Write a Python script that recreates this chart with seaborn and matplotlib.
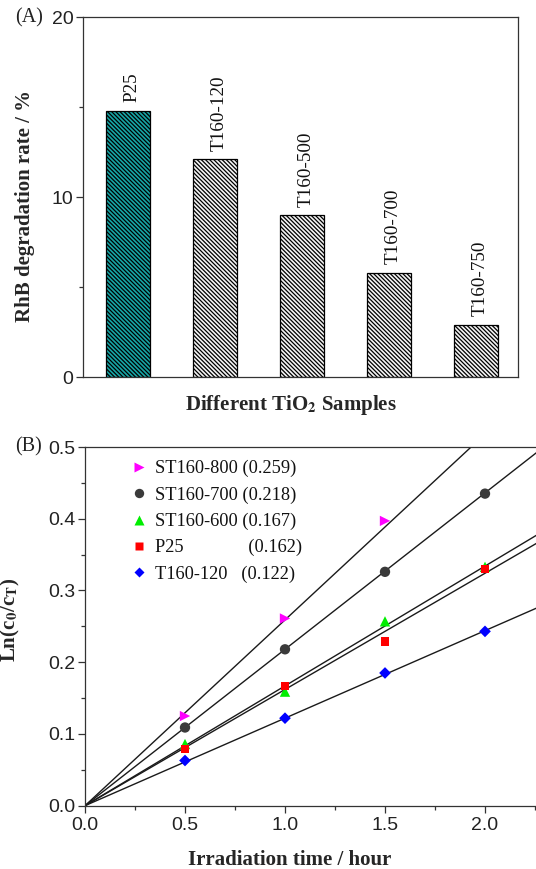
import numpy as np
import pandas as pd
import matplotlib
matplotlib.use("Agg")
import matplotlib.pyplot as plt
import seaborn as sns
from matplotlib.lines import Line2D

# ---------------- data ----------------
samples = ["P25", "T160-120", "T160-500", "T160-700", "T160-750"]
rates = [14.8, 12.1, 9.0, 5.8, 2.9]

series_names = ["ST160-800", "ST160-700", "ST160-600", "P25", "T160-120"]
series_k = [0.259, 0.218, 0.167, 0.162, 0.122]
t_800 = [0.5, 1.0, 1.5]
y_800 = [0.125, 0.261, 0.397]
t_700 = [0.5, 1.0, 1.5, 2.0]
y_700 = [0.109, 0.218, 0.326, 0.435]
t_600 = [0.5, 1.0, 1.5, 2.0]
y_600 = [0.086, 0.159, 0.257, 0.333]
t_p25 = [0.5, 1.0, 1.5, 2.0]
y_p25 = [0.079, 0.167, 0.229, 0.330]
t_120 = [0.5, 1.0, 1.5, 2.0]
y_120 = [0.063, 0.122, 0.185, 0.243]

legend_labels = ["ST160-800 (0.259)", "ST160-700 (0.218)", "ST160-600 (0.167)",
                 "P25" + " " * 14 + "(0.162)", "T160-120   (0.122)"]

# ---------------- style ----------------
sns.set_theme(style="ticks")
plt.rcParams["font.family"] = ["Liberation Sans", "DejaVu Sans"]
plt.rcParams["mathtext.fontset"] = "stix"
plt.rcParams["hatch.linewidth"] = 0.9
plt.rcParams["axes.edgecolor"] = "#333333"
plt.rcParams["axes.linewidth"] = 0.9
plt.rcParams["xtick.color"] = "#333333"
plt.rcParams["ytick.color"] = "#333333"
plt.rcParams["xtick.labelcolor"] = "#222222"
plt.rcParams["ytick.labelcolor"] = "#222222"
SERIF = ["Liberation Serif", "DejaVu Serif"]

W, H = 536, 869
fig = plt.figure(figsize=(W / 100, H / 100), dpi=100)

def box(l, t, r, b):
    return [l / W, 1 - b / H, (r - l) / W, (b - t) / H]

# ---------------- panel A ----------------
axA = fig.add_axes(box(83, 17, 518, 377))
dfA = pd.DataFrame({"sample": samples, "rate": rates})
sns.barplot(data=dfA, x="sample", y="rate", ax=axA, width=0.5,
            color="white", edgecolor="black", linewidth=0.9, saturation=1)
for i, p in enumerate(axA.patches):
    p.set_hatch("\\" * 8)
    p.set_edgecolor("black")
    p.set_facecolor("#16a6a6" if i == 0 else "#f4f4f4")
for i, (s, v) in enumerate(zip(samples, rates)):
    axA.annotate(s, (i, v), xytext=(3, 6), textcoords="offset points",
                 rotation=90, ha="center", va="bottom", fontsize=13.8,
                 family=SERIF, color="#111111")
axA.set_xlim(-0.52, 4.48)
axA.set_ylim(0, 20)
axA.set_yticks([0, 10, 20])
axA.set_yticks([5, 15], minor=True)
axA.tick_params(axis="y", which="major", direction="out", length=5, width=0.9,
                labelsize=14, pad=2)
axA.tick_params(axis="y", which="minor", direction="out", length=3, width=0.9)
axA.tick_params(axis="x", bottom=False, labelbottom=False)
for sp in axA.spines.values():
    sp.set_visible(True)
axA.set_xlabel("Different TiO$_\\mathbf{2}$ Samples", fontsize=15,
               fontweight="bold", family=SERIF)
axA.set_ylabel("RhB degradation rate / %", fontsize=15, fontweight="bold",
               family=SERIF)
axA.xaxis.set_label_coords(0.479, -0.044)
axA.yaxis.set_label_coords(-0.110, 0.476)
fig.text(15 / W, 1 - 18 / H, "(A)", fontsize=14.5, family=SERIF,
         va="center", ha="left", color="#222222")

# ---------------- panel B ----------------
xmax = 2.26
axB = fig.add_axes(box(85, 447, 85 + 200 * xmax, 805.7))
rows = []
for name, tt, yy in zip(series_names, [t_800, t_700, t_600, t_p25, t_120],
                        [y_800, y_700, y_600, y_p25, y_120]):
    for a, b in zip(tt, yy):
        rows.append({"series": name, "t": a, "y": b})
dfB = pd.DataFrame(rows)

fit_rows = []
for name, k in zip(series_names, series_k):
    for a in [0.0, 2.4]:
        fit_rows.append({"series": name, "t": a, "y": k * a})
dfFit = pd.DataFrame(fit_rows)

palette = {"ST160-800": "#ff00ff", "ST160-700": "#3a3a3a",
           "ST160-600": "#00ee00", "P25": "#ff0000", "T160-120": "#0000ff"}
markers = {"ST160-800": ">", "ST160-700": "o", "ST160-600": "^",
           "P25": "s", "T160-120": "D"}
sizes = {"ST160-800": 7.5, "ST160-700": 7.5, "ST160-600": 7.5,
         "P25": 6, "T160-120": 6}

sns.lineplot(data=dfFit, x="t", y="y", units="series", estimator=None,
             color="#1a1a1a", linewidth=1.0, ax=axB, legend=False, zorder=2)
for name in series_names:
    d = dfB[dfB["series"] == name]
    sns.scatterplot(data=d, x="t", y="y", ax=axB, color=palette[name],
                    marker=markers[name], s=(sizes[name] * 0.72) ** 2 * 1.9,
                    edgecolor="none", linewidth=0, legend=False, zorder=3)

handles = [Line2D([], [], linestyle="none", marker=markers[n],
                  markerfacecolor=palette[n], markeredgecolor="none",
                  markersize=sizes[n] * 0.75 * 1.2) for n in series_names]
leg = axB.legend(handles, legend_labels, loc="upper left",
                 bbox_to_anchor=(0.09, 0.985), frameon=False,
                 handlelength=0.6, handletextpad=0.6, labelspacing=0.5,
                 borderaxespad=0, prop={"family": SERIF, "size": 13.2})
for txt in leg.get_texts():
    txt.set_color("#111111")

axB.set_xlim(0, xmax)
axB.set_ylim(0, 0.5)
axB.set_xticks([0.0, 0.5, 1.0, 1.5, 2.0])
axB.set_xticks([0.25, 0.75, 1.25, 1.75, 2.25], minor=True)
axB.set_yticks([0.0, 0.1, 0.2, 0.3, 0.4, 0.5])
axB.set_yticks([0.05, 0.15, 0.25, 0.35, 0.45], minor=True)
axB.xaxis.set_major_formatter(matplotlib.ticker.FormatStrFormatter("%.1f"))
axB.yaxis.set_major_formatter(matplotlib.ticker.FormatStrFormatter("%.1f"))
axB.tick_params(which="major", direction="out", length=5, width=0.9,
                labelsize=14, pad=2)
axB.tick_params(which="minor", direction="out", length=3, width=0.9)
axB.tick_params(axis="x", pad=3)
for sp in axB.spines.values():
    sp.set_visible(True)
axB.set_xlabel("Irradiation time / hour", fontsize=15, fontweight="bold",
               family=SERIF)
axB.set_ylabel("Ln(c$_\\mathbf{0}$/c$_\\mathbf{T}$)", fontsize=15,
               fontweight="bold", family=SERIF)
axB.xaxis.set_label_coords(0.452, -0.123)
axB.yaxis.set_label_coords(-0.139, 0.518)
fig.text(15 / W, 1 - 447 / H, "(B)", fontsize=14.5, family=SERIF,
         va="center", ha="left", color="#222222")

fig.savefig("out.png", dpi=100)
